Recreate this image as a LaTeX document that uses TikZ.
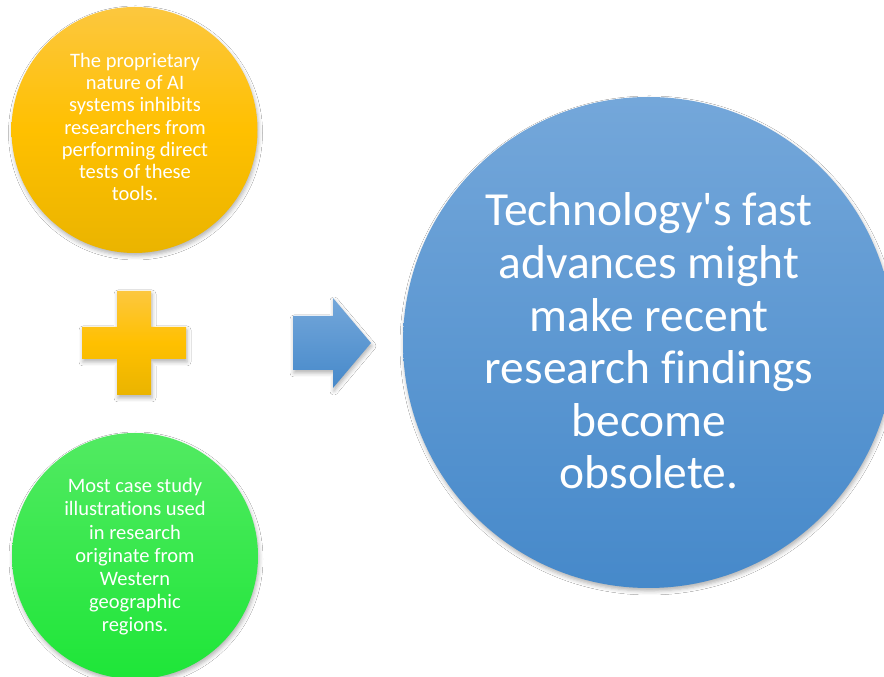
\documentclass[tikz,border=0pt]{standalone}
\usepackage{fontspec}
\setmainfont{Carlito}[Ligatures=NoCommon]
\usetikzlibrary{shadows.blur}
\definecolor{orTop}{HTML}{FCC73F}
\definecolor{orMid}{HTML}{FFC000}
\definecolor{orBot}{HTML}{EAB400}
\definecolor{grTop}{HTML}{52EA62}
\definecolor{grBot}{HTML}{1EE638}
\definecolor{blTop}{HTML}{74A7DA}
\definecolor{blBot}{HTML}{4689CA}
\tikzset{
  sh/.style={blur shadow={shadow xshift=1pt, shadow yshift=-3pt, shadow blur radius=4pt, shadow opacity=30}},
  smallcirc/.style={circle, inner sep=0pt, minimum size=246pt, sh},
  bigcirc/.style={circle, inner sep=0pt, minimum size=491pt, sh, top color=blTop, bottom color=blBot},
  smalltext/.style={text=white, align=center, font=\fontsize{20.5}{22.2}\selectfont},
  bigtext/.style={text=white, align=center, font=\fontsize{47.5}{52.6}\selectfont},
}
\begin{document}
\begin{tikzpicture}[x=1pt,y=1pt]
\useasboundingbox (0,0) rectangle (884,677);
\clip (0,0) rectangle (884,677);
\fill[white] (0,0) rectangle (884,677);
% top circle
\node[smallcirc, top color=orTop, bottom color=orBot, middle color=orMid] (top) at (134.5,547) {};
\node[smalltext] (toptext) at (135,550)
  {The proprietary\\nature of AI\\systems inhibits\\researchers from\\performing direct\\tests of these\\tools.};
% bottom circle
\node[smallcirc, top color=grTop, bottom color=grBot] (bot) at (135,121) {};
\node[smalltext, font=\fontsize{20.5}{23.2}\selectfont] (bottext) at (135,120)
  {Most case study\\illustrations used\\in research\\originate from\\Western\\geographic\\regions.};
% big circle
\node[bigcirc] (big) at (648.5,334.5) {};
\node[bigtext] (bigtxt) at (649,336)
  {Technology\textquotesingle s fast\\advances might\\make recent\\research findings\\become\\obsolete.};
% plus sign
\path[sh, top color=orTop, bottom color=orBot, middle color=orMid]
  (117,282) -- (151,282) -- (151,318) -- (186,318) -- (186,350) -- (151,350) -- (151,386)
  -- (117,386) -- (117,350) -- (82,350) -- (82,318) -- (117,318) -- cycle;
\coordinate (plus) at (134,334);
% arrow
\path[sh, top color=blTop, bottom color=blBot]
  (293,307) -- (333,307) -- (333,289) -- (371,334) -- (333,379) -- (333,361) -- (293,361) -- cycle;
\coordinate (arrow) at (332,334);
\end{tikzpicture}
\end{document}
